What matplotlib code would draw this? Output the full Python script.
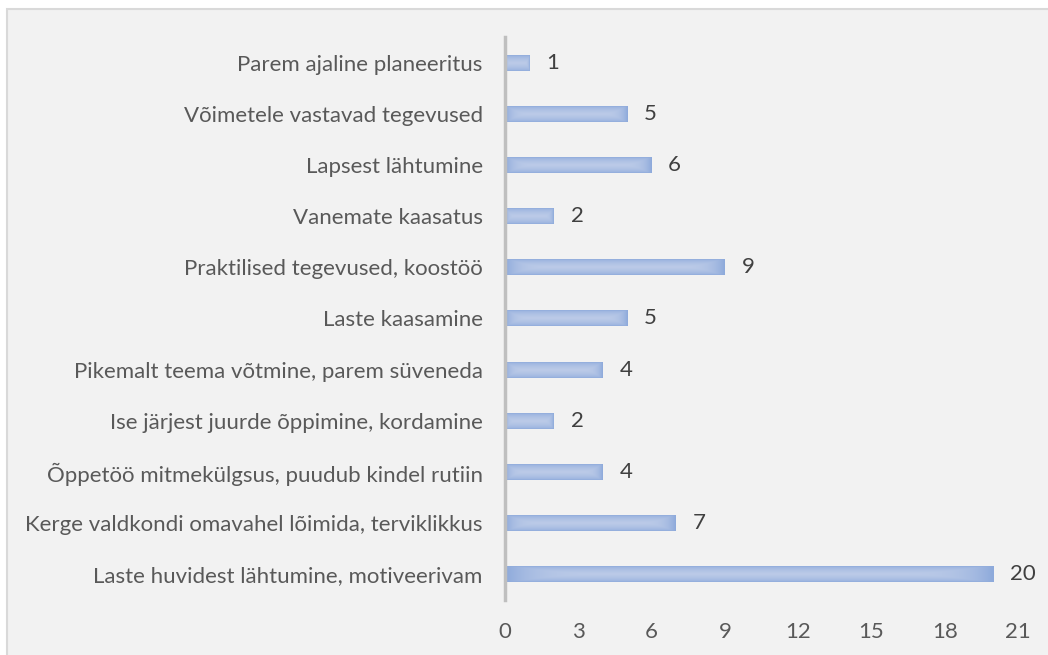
import numpy as np
import matplotlib.pyplot as plt
from matplotlib.patches import Rectangle
from matplotlib.colors import LinearSegmentedColormap

# Andmed (ülalt alla nagu joonisel)
kategooriad = [
    'Parem ajaline planeeritus',
    'Võimetele vastavad tegevused',
    'Lapsest lähtumine',
    'Vanemate kaasatus',
    'Praktilised tegevused, koostöö',
    'Laste kaasamine',
    'Pikemalt teema võtmine, parem süveneda',
    'Ise järjest juurde õppimine, kordamine',
    'Õppetöö mitmekülgsus, puudub kindel rutiin',
    'Kerge valdkondi omavahel lõimida, terviklikkus',
    'Laste huvidest lähtumine, motiveerivam',
]
vaartused = [1, 5, 6, 2, 9, 5, 4, 2, 4, 7, 20]
xticks = [0, 3, 6, 9, 12, 15, 18, 21]

plt.rcParams['font.family'] = ['Lato', 'DejaVu Sans']
tekst = '#595959'

fig = plt.figure(figsize=(10.48, 6.55), dpi=100)
fig.patch.set_facecolor('white')
# hall taustapaneel
fig.patches.append(Rectangle((7 / 1048, -0.05), 1.1, 1 - 9 / 655 + 0.05,
                             transform=fig.transFigure, facecolor='#f2f2f2',
                             edgecolor='#d9d9d9', linewidth=1.5, zorder=-10))

ax = fig.add_axes([505 / 1048, 55 / 655, (1018 - 505) / 1048, (618 - 55) / 655])
ax.set_facecolor('none')

y = np.arange(len(kategooriad))[::-1]
h = 0.31
cmap = LinearSegmentedColormap.from_list('bar', ['#8eaadb', '#bccbe8'])
for yi, v in zip(y, vaartused):
    ny, nx = 40, 200
    gy = 1 - np.abs(np.linspace(-1, 1, ny))[:, None]
    gx = 1 - np.abs(np.linspace(-1, 1, nx))[None, :] ** 8
    grad = np.minimum(gy ** 0.5, gx) * np.ones((ny, nx))
    ax.imshow(grad, extent=(0, v, yi - h / 2, yi + h / 2), cmap=cmap,
              aspect='auto', interpolation='bilinear', zorder=2, vmin=0, vmax=1)
    ax.annotate(str(v), (v, yi), xytext=(12, 0), textcoords='offset points',
                va='center', ha='left', fontsize=16, color='#404040')

ax.set_xlim(0, 21)
ax.set_ylim(-0.5, len(kategooriad) - 0.5)
ax.set_yticks(y)
ax.set_yticklabels(kategooriad, fontsize=16, color=tekst)
ax.set_xticks(xticks)
ax.set_xticklabels([str(t) for t in xticks], fontsize=16, color=tekst)
ax.tick_params(axis='both', length=0)
ax.tick_params(axis='x', pad=16)
ax.tick_params(axis='y', pad=16)
for s in ['top', 'right', 'bottom']:
    ax.spines[s].set_visible(False)
ax.spines['left'].set_color('#bfbfbf')
ax.spines['left'].set_linewidth(2.5)

fig.savefig('out.png', dpi=100)
